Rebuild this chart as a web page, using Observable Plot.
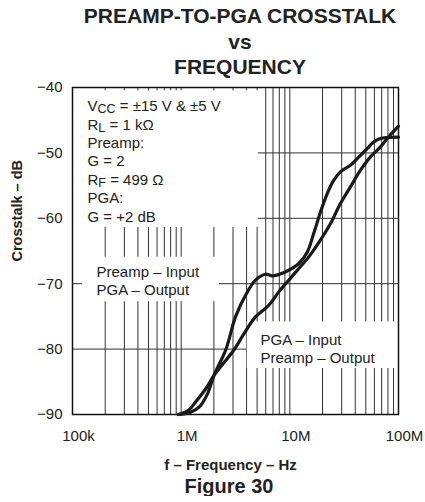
<!DOCTYPE html>
<html>
<head>
<meta charset="utf-8">
<script src="https://cdn.jsdelivr.net/npm/d3@7"></script>
<script src="https://cdn.jsdelivr.net/npm/@observablehq/plot@0.6"></script>
<style>
  body { margin: 0; background: #fff; font-family: "Liberation Sans", Arial, sans-serif; color: #222; }
  #title { width: 425px; height: 80px; box-sizing: border-box; padding: 3px 0 0 55px; text-align: center;
           font-weight: bold; font-size: 21px; line-height: 25.5px; }
  #caption { width: 425px; box-sizing: border-box; padding-left: 33px; text-align: center;
             font-weight: bold; font-size: 20px; line-height: 20px; }
  #chart svg { display: block; }
</style>
</head>
<body>
<div id="title">PREAMP-TO-PGA CROSSTALK<br>vs<br>FREQUENCY</div>
<div id="chart"></div>
<div id="caption">Figure 30</div>
<script>
// ---- data ----
// Curve with the bump near 5 MHz
const freqA = [0.98e6, 1.22e6, 1.47e6, 1.75e6, 2.01e6, 2.58e6, 3.16e6, 3.91e6, 4.83e6, 5.97e6, 6.88e6, 7.91e6,
               9.77e6, 12.1e6, 14.45e6, 16.6e6, 19.1e6, 22.1e6, 25.4e6, 29.2e6, 36.1e6, 41.7e6, 51.5e6, 59.3e6,
               68.3e6, 78.7e6, 100e6];
const dbA   = [-90.0, -89.65, -88.84, -86.8, -83.99, -80.06, -75.08, -71.76, -69.46, -68.55, -68.81, -68.6,
               -67.94, -66.91, -65.18, -62.3, -59.07, -56.21, -54.17, -52.9, -51.88, -50.86, -49.33, -48.32,
               -47.8, -47.65, -47.6];
// Smoother curve
const freqB = [0.94e6, 1.17e6, 1.36e6, 1.69e6, 2.01e6, 3.08e6, 3.70e6, 4.83e6, 6.40e6, 7.91e6, 9.77e6,
               12.1e6, 14.94e6, 19.1e6, 23.7e6, 29.2e6, 36.1e6, 44.7e6, 55.2e6, 68.3e6, 78.7e6, 100e6];
const dbB   = [-90.0, -89.34, -88.07, -86.02, -83.99, -80.06, -77.9, -75.08, -73.29, -71.25, -69.46,
               -67.68, -65.9, -63.35, -60.8, -57.74, -55.2, -52.65, -50.61, -49.08, -47.8, -45.92];

const xTickValues = [1e5, 1e6, 1e7, 1e8];
const xTickLabels = ["100k", "1M", "10M", "100M"];
const yTicks = [-90, -80, -70, -60, -50, -40];
const yGrid = [-80, -70, -60, -50];
const xGrid = [1e5, 1e6, 1e7].flatMap(d => [1, 2, 3, 4, 5, 6, 7, 8, 9].map(k => k * d)).filter(v => v > 1e5);

const conditionsText = "V_{CC} = ±15 V & ±5 V\nR_{L} = 1 kΩ\nPreamp:\nG = 2\nR_{F} = 499 Ω\nPGA:\nG = +2 dB";
const label1 = "Preamp – Input\nPGA – Output";
const label2 = "PGA – Input\nPreamp – Output";
const xTitle = "f – Frequency – Hz";
const yTitle = "Crosstalk – dB";

const seriesA = freqA.map((f, i) => ({f, db: dbA[i]}));
const seriesB = freqB.map((f, i) => ({f, db: dbB[i]}));

const font = "Liberation Sans, Arial, sans-serif";

const chart = Plot.plot({
  width: 425,
  height: 396,
  marginTop: 7,
  marginLeft: 72,
  marginRight: 27,
  marginBottom: 62,
  style: {fontFamily: font, fontSize: "15px", color: "#222", background: "white", overflow: "visible"},
  x: {type: "log", domain: [1e5, 1e8]},
  y: {domain: [-90, -40]},
  marks: [
    Plot.ruleX(xGrid, {stroke: "#333", strokeWidth: 1}),
    Plot.ruleY(yGrid, {stroke: "#333", strokeWidth: 1}),
    // white label boxes that hide the grid
    Plot.rect([
      {x1: 1e5, x2: 5.15e6, y1: -61.4, y2: -40.5},
      {x1: 1.236e5, x2: 2.25e6, y1: -72.75, y2: -65.95},
      {x1: 4.05e6, x2: 1e8, y1: -82.97, y2: -75.84}
    ], {x1: "x1", x2: "x2", y1: "y1", y2: "y2", fill: "white"}),
    Plot.frame({stroke: "#111", strokeWidth: 1.5}),
    Plot.axisX(xTickValues, {tickSize: 0, tickPadding: 16, dx: 6, label: null,
      tickFormat: d => xTickLabels[xTickValues.indexOf(d)], fontSize: 15}),
    Plot.axisY(yTicks, {tickSize: 0, tickPadding: 10, label: null, fontSize: 15}),
    Plot.text([conditionsText], {frameAnchor: "top-left", dx: 15, dy: 10.5, lineAnchor: "top",
      textAnchor: "start", lineHeight: 1.23, fontSize: 15, fill: "#222"}),
    Plot.text([label1], {frameAnchor: "top-left", dx: 24, dy: 177.4, lineAnchor: "top",
      textAnchor: "start", lineHeight: 1.18, fontSize: 15, fill: "#222"}),
    Plot.text([label2], {frameAnchor: "top-left", dx: 188, dy: 244, lineAnchor: "top",
      textAnchor: "start", lineHeight: 1.22, fontSize: 15, fill: "#222"}),
    Plot.text([yTitle], {frameAnchor: "left", dx: -55, dy: 10.5, rotate: -90, lineAnchor: "middle",
      fontWeight: "bold", fontSize: 14.5, fill: "#222"}),
    Plot.text([xTitle], {frameAnchor: "bottom", dx: -5, dy: 45.3, lineAnchor: "top",
      fontWeight: "bold", fontSize: 15, fill: "#222"}),
    Plot.line(seriesA, {x: "f", y: "db", stroke: "#1a1a1a", strokeWidth: 3.2, curve: "catmull-rom"}),
    Plot.line(seriesB, {x: "f", y: "db", stroke: "#1a1a1a", strokeWidth: 3.2, curve: "catmull-rom"})
  ]
});

// turn "_{..}" markers into subscripts
d3.select(chart).selectAll("text, tspan").each(function () {
  if (this.childNodes.length !== 1 || this.firstChild.nodeType !== 3) return;
  const s = this.textContent;
  if (!s.includes("_{")) return;
  const parts = s.split(/(_\{[^}]*\})/).filter(p => p);
  this.textContent = "";
  let shifted = false;
  for (const p of parts) {
    const m = p.match(/^_\{(.*)\}$/);
    const t = document.createElementNS("http://www.w3.org/2000/svg", "tspan");
    if (m) {
      t.textContent = m[1];
      t.setAttribute("dy", "2.2px");
      t.setAttribute("font-size", "12.5px");
      shifted = true;
    } else {
      t.textContent = p;
      if (shifted) { t.setAttribute("dy", "-2.2px"); shifted = false; }
    }
    this.appendChild(t);
  }
});

document.getElementById("chart").appendChild(chart);
</script>
</body>
</html>
